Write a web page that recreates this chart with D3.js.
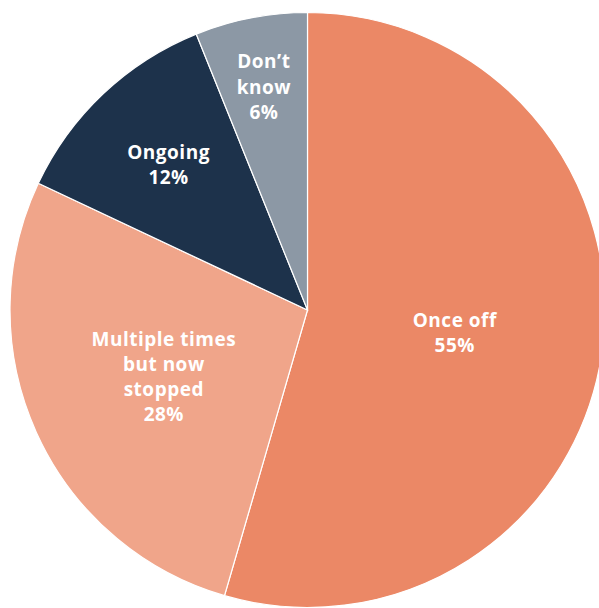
<!DOCTYPE html>
<html><head><meta charset="utf-8">
<script src="https://cdn.jsdelivr.net/npm/d3@7"></script>
<style>html,body{margin:0;padding:0;background:#fff;overflow:hidden}</style>
</head><body>
<svg id="c" width="599" height="608"></svg>
<script>
const categories = ["Once off", "Multiple times but now stopped", "Ongoing", "Don’t know"];
const values = [54.5, 27.5, 11.9, 6.1];
const percentLabels = ["55%", "28%", "12%", "6%"];
const labelLines = [["Once off"], ["Multiple times", "but now", "stopped"], ["Ongoing"], ["Don’t", "know"]];
const colors = ["#EB8866", "#F0A58A", "#1D324B", "#8C98A5"];
const labelRadiusFrac = [0.5, 0.53, 0.68, 0.77];

const svg = d3.select("#c");
const cx = 307.5, cy = 310, r = 297.5;
const g = svg.append("g").attr("transform", `translate(${cx},${cy})`);
const data = categories.map((c, i) => ({c, v: values[i], i}));
const pie = d3.pie().value(d => d.v).sort(null);
const arc = d3.arc().innerRadius(0).outerRadius(r);
const arcs = pie(data);
g.selectAll("path").data(arcs).join("path")
  .attr("d", arc).attr("fill", d => colors[d.data.i])
  .attr("stroke", "#fff").attr("stroke-width", 1.2);

const lh = 25.3;
arcs.forEach(a => {
  const i = a.data.i;
  const lr = r * labelRadiusFrac[i];
  const la = d3.arc().innerRadius(lr).outerRadius(lr);
  const [x, y] = la.centroid(a);
  const lines = labelLines[i].concat([percentLabels[i]]);
  const t = g.append("text").attr("text-anchor", "middle")
    .attr("font-family", "'Open Sans', sans-serif").attr("font-weight", 700)
    .attr("font-size", 19).attr("letter-spacing", 0.5).attr("fill", "#fff");
  const y0 = y - (lines.length - 1) * lh / 2;
  lines.forEach((l, k) => t.append("tspan").attr("x", x).attr("y", y0 + k * lh + 2).attr("dy", "0.35em").text(l));
});
</script>
</body></html>
